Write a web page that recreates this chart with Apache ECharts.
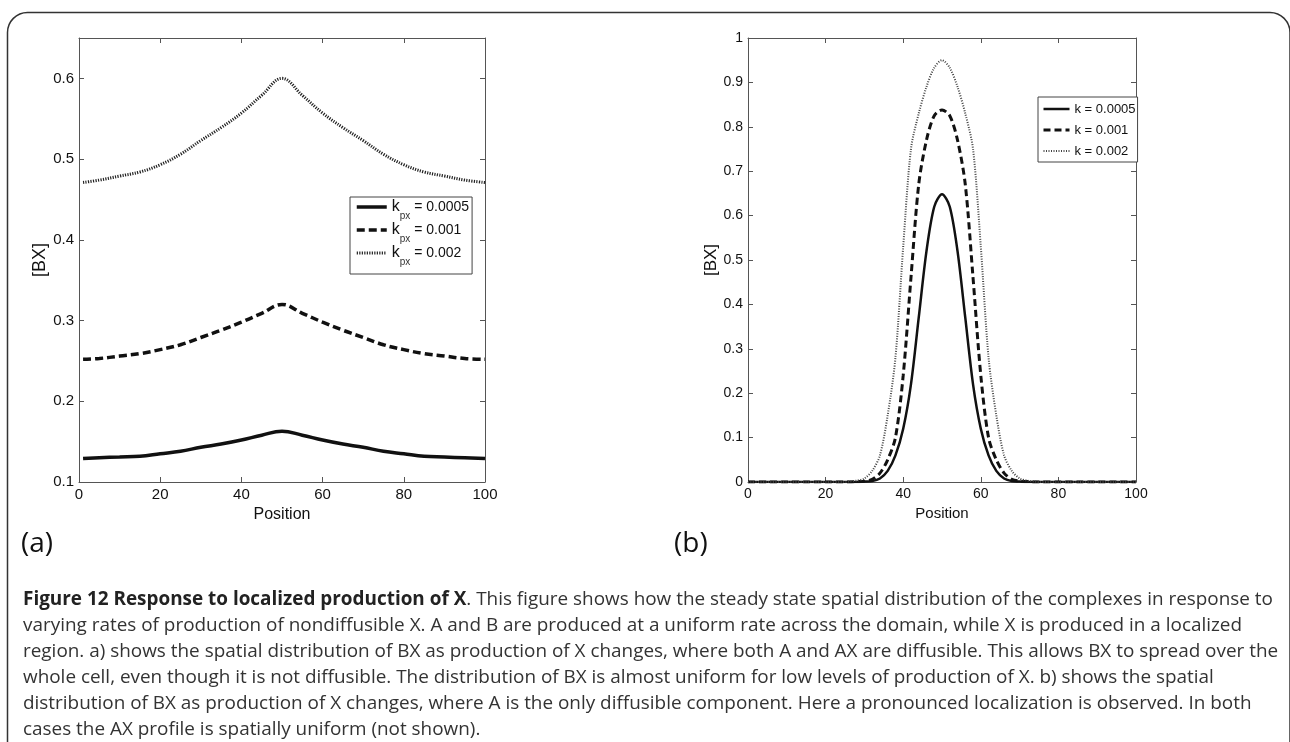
<!DOCTYPE html>
<html><head><meta charset="utf-8">
<script src="https://cdn.jsdelivr.net/npm/echarts@6/dist/echarts.min.js"></script>
<style>
html,body{margin:0;padding:0;background:#fff;}
#wrap{position:relative;width:1290px;height:742px;overflow:hidden;background:#fff;}
#chart{position:absolute;left:0;top:0;width:1290px;height:742px;}
#cap{position:absolute;left:23px;top:585px;font-family:'Open Sans',sans-serif;font-size:15.5px;color:#333;white-space:nowrap;}
#cap div{height:26px;line-height:26px;}
#cap b{font-weight:700;color:#222;}
</style></head><body>
<div id="wrap"><div id="chart"></div>
<div id="cap">
<div><span id="l1"><b>Figure 12 Response to localized production of X</b>. This figure shows how the steady state spatial distribution of the complexes in response to</span></div>
<div>varying rates of production of nondiffusible X. A and B are produced at a uniform rate across the domain, while X is produced in a localized</div>
<div>region. a) shows the spatial distribution of BX as production of X changes, where both A and AX are diffusible. This allows BX to spread over the</div>
<div>whole cell, even though it is not diffusible. The distribution of BX is almost uniform for low levels of production of X. b) shows the spatial</div>
<div>distribution of BX as production of X changes, where A is the only diffusible component. Here a pronounced localization is observed. In both</div>
<div>cases the AX profile is spatially uniform (not shown).</div>
</div>
</div>
<script>
// ---- Panel (a) data ----
const posA = [1,5,10,15,20,25,30,35,40,45,50,55,60,65,70,75,80,85,90,95,100];
const a_k0005 = [0.129,0.130,0.131,0.132,0.135,0.138,0.143,0.147,0.152,0.158,0.163,0.158,0.152,0.147,0.143,0.138,0.135,0.132,0.131,0.130,0.129];
const a_k001  = [0.252,0.253,0.256,0.259,0.264,0.270,0.279,0.288,0.298,0.309,0.320,0.309,0.298,0.288,0.279,0.270,0.264,0.259,0.256,0.253,0.252];
const a_k002  = [0.471,0.474,0.479,0.484,0.493,0.506,0.523,0.539,0.557,0.579,0.600,0.579,0.557,0.539,0.523,0.506,0.493,0.484,0.479,0.474,0.471];
const legendA = ['0.0005','0.001','0.002'];

// ---- Panel (b) data ----
const posB = [0,5,10,15,20,25,26,28,30,32,34,36,38,40,42,44,46,48,50,52,54,56,58,60,62,64,66,68,70,72,74,75,80,85,90,95,100];
const b_k0005 = [0,0,0,0,0,0,0,0,0.001,0.002,0.008,0.025,0.06,0.12,0.22,0.37,0.52,0.62,0.648,0.62,0.52,0.37,0.22,0.12,0.06,0.025,0.008,0.002,0.001,0,0,0,0,0,0,0,0];
const b_k001  = [0,0,0,0,0,0,0,0.001,0.002,0.006,0.02,0.05,0.1,0.24,0.46,0.67,0.77,0.825,0.838,0.825,0.77,0.67,0.46,0.24,0.1,0.05,0.02,0.006,0.002,0.001,0,0,0,0,0,0,0];
const b_k002  = [0,0,0,0,0,0,0.001,0.003,0.008,0.025,0.06,0.15,0.28,0.53,0.75,0.83,0.89,0.933,0.95,0.933,0.89,0.83,0.75,0.53,0.28,0.15,0.06,0.025,0.008,0.003,0.001,0,0,0,0,0,0];
const legendB = ['0.0005','0.001','0.002'];

const xTicks = {min:0, max:100, interval:20};
const FONT = "'Liberation Sans', Arial, sans-serif";
const AX = '#555';

function pairs(xs, ys){ return xs.map((x,i)=>[x, ys[i]]); }

function xAxis(grid, pos, showLab, fs, nfs, gap){
  return {type:'value', gridIndex:grid, position:pos, min:xTicks.min, max:xTicks.max, interval:xTicks.interval,
    axisLine:{show:true, onZero:false, lineStyle:{color:AX, width:1}},
    axisTick:{show:true, inside:true, length:5, lineStyle:{color:AX}},
    axisLabel:{show:showLab, color:'#111', fontFamily:FONT, fontSize:fs, margin:5},
    splitLine:{show:false},
    name: showLab ? 'Position' : '', nameLocation:'middle', nameGap:gap||24,
    nameTextStyle:{color:'#111', fontFamily:FONT, fontSize:nfs||fs}};
}
function yAxis(grid, pos, showLab, min, max, fs, fmt, gap, nfs){
  const o = {type:'value', gridIndex:grid, position:pos, min:min, max:max, interval:0.1,
    axisLine:{show:true, onZero:false, lineStyle:{color:AX, width:1}},
    axisTick:{show:true, inside:true, length:5, lineStyle:{color:AX}},
    axisLabel:{show:showLab, color:'#111', fontFamily:FONT, fontSize:fs, margin:5},
    splitLine:{show:false},
    name: showLab ? '[BX]' : '', nameLocation:'middle', nameGap:gap,
    nameTextStyle:{color:'#111', fontFamily:FONT, fontSize:nfs||fs}};
  if (fmt) o.axisLabel.formatter = fmt;
  return o;
}
const fmtA = v => (Math.abs(v*10 - Math.round(v*10)) < 1e-6) ? v.toFixed(1) : '';

const namesA = legendA.map(v => 'k_px = ' + v);
const namesB = legendB.map(v => 'k = ' + v);

const styles = [
  {a:{width:3.5, type:'solid', color:'#111'}, b:{width:2.5, type:'solid', color:'#111'}},
  {a:{width:3.5, type:[8,4], color:'#111'}, b:{width:3, type:[7,4], color:'#111'}},
  {a:{width:3, type:[1.2,1.3], color:'#222'}, b:{width:2, type:[1,1.5], color:'#444'}}
];
const dataA = [a_k0005, a_k001, a_k002];
const dataB = [b_k0005, b_k001, b_k002];

const series = [];
for (let i=0;i<3;i++){
  series.push({type:'line', name:namesA[i], xAxisIndex:0, yAxisIndex:0, data:pairs(posA, dataA[i]),
    showSymbol:false, symbol:'none', smooth:0.4, lineStyle:styles[i].a, itemStyle:{color:styles[i].a.color}, silent:true, animation:false});
}
for (let i=0;i<3;i++){
  series.push({type:'line', name:namesB[i], xAxisIndex:2, yAxisIndex:2, data:pairs(posB, dataB[i]),
    showSymbol:false, symbol:'none', smooth:0.3, lineStyle:styles[i].b, itemStyle:{color:styles[i].b.color}, silent:true, animation:false});
}

const hideSym = {color:'rgba(0,0,0,0)', borderColor:'rgba(0,0,0,0)', borderWidth:0};

const chart = echarts.init(document.getElementById('chart'), null, {renderer:'canvas'});
chart.setOption({
  backgroundColor:'transparent',
  animation:false,
  grid:[
    {left:79, top:38, width:406, height:444},
    {left:748, top:38, width:388, height:444}
  ],
  xAxis:[ xAxis(0,'bottom',true,15,16,25), xAxis(0,'top',false,15), xAxis(1,'bottom',true,14,15,24), xAxis(1,'top',false,14) ],
  yAxis:[ yAxis(0,'left',true,0.1,0.65,15,fmtA,27,18), yAxis(0,'right',false,0.1,0.65,15,null,0),
          yAxis(1,'left',true,0,1,14,null,25,17), yAxis(1,'right',false,0,1,14,null,0) ],
  legend:[
    {data:namesA, left:350, top:197, orient:'vertical', selectedMode:false,
     itemWidth:30, itemHeight:12, itemGap:1, padding:[2,3,7,5],
     itemStyle:hideSym, lineStyle:{width:'inherit', type:'inherit'},
     backgroundColor:'#fff', borderColor:'#444', borderWidth:1, borderRadius:0,
     formatter: name => '{k|k}{s|px}{t| = ' + name.split('= ')[1] + '}',
     textStyle:{color:'#111', fontFamily:FONT, fontSize:14,
       rich:{k:{fontSize:16, fontFamily:FONT, color:'#111', lineHeight:28, verticalAlign:'middle'},
             s:{fontSize:10, fontFamily:FONT, color:'#333', lineHeight:10, verticalAlign:'bottom'},
             t:{fontSize:14, fontFamily:FONT, color:'#111', lineHeight:28, verticalAlign:'middle'}}}},
    {data:namesB, left:1038, top:97, orient:'vertical', selectedMode:false,
     itemWidth:26, itemHeight:10, itemGap:5, padding:[4,2,3,4],
     itemStyle:hideSym, lineStyle:{width:'inherit', type:'inherit'},
     backgroundColor:'#fff', borderColor:'#444', borderWidth:1, borderRadius:0,
     textStyle:{color:'#111', fontFamily:FONT, fontSize:13, lineHeight:16}}
  ],
  graphic:[
    {type:'rect', silent:true, shape:{x:7.5, y:12.5, width:1282.5, height:800, r:[20,20,0,0]},
     style:{fill:'none', stroke:'#333', lineWidth:1.5}},
    {type:'text', left:21, top:530, silent:true, style:{text:'(a)', fontSize:28, fontFamily:"'Open Sans', sans-serif", fill:'#111'}},
    {type:'text', left:674, top:530, silent:true, style:{text:'(b)', fontSize:28, fontFamily:"'Open Sans', sans-serif", fill:'#111'}}
  ],
  series: series
});

function fitCaption(){
  const cap = document.getElementById('cap');
  cap.style.fontSize = '15.5px';
  const w = document.getElementById('l1').getBoundingClientRect().width;
  if (w > 0) cap.style.fontSize = (15.5 * 1250 / w).toFixed(2) + 'px';
}
fitCaption();
if (document.fonts && document.fonts.ready) document.fonts.ready.then(fitCaption);
</script>
</body></html>
